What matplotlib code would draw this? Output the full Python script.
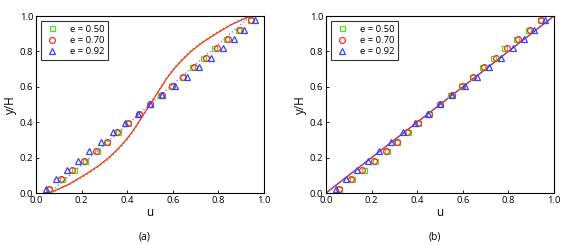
import matplotlib
matplotlib.use("Agg")
import matplotlib.pyplot as plt

plt.rcParams['font.family'] = ['Open Sans', 'DejaVu Sans']

# measured points (same in both panels)
y_pts = [0.025, 0.078, 0.131, 0.183, 0.236, 0.289, 0.342, 0.394, 0.447, 0.5,
         0.553, 0.606, 0.658, 0.711, 0.764, 0.817, 0.869, 0.922, 0.975]
u_e50 = [0.058, 0.112, 0.165, 0.215, 0.266, 0.313, 0.361, 0.405, 0.453, 0.5,
         0.546, 0.590, 0.639, 0.685, 0.732, 0.781, 0.832, 0.884, 0.937]
u_e70 = [0.058, 0.110, 0.159, 0.211, 0.262, 0.310, 0.357, 0.403, 0.451, 0.5,
         0.553, 0.597, 0.646, 0.693, 0.744, 0.794, 0.844, 0.893, 0.943]
u_e92 = [0.042, 0.088, 0.135, 0.183, 0.232, 0.284, 0.339, 0.392, 0.447, 0.5,
         0.554, 0.608, 0.664, 0.716, 0.769, 0.819, 0.868, 0.914, 0.960]

# model curves, panel (a)
y_line = [0.0, 0.05, 0.1, 0.15, 0.2, 0.25, 0.3, 0.35, 0.4, 0.45, 0.5,
          0.55, 0.6, 0.65, 0.7, 0.75, 0.8, 0.85, 0.9, 0.95, 1.0]
u_red_a = [0.06, 0.145, 0.21, 0.27, 0.32, 0.36, 0.395, 0.425, 0.45, 0.475, 0.5,
           0.525, 0.55, 0.575, 0.605, 0.64, 0.68, 0.73, 0.79, 0.855, 0.94]
u_grn_a = [0.065, 0.152, 0.218, 0.277, 0.326, 0.365, 0.399, 0.428, 0.452, 0.476, 0.5,
           0.524, 0.548, 0.572, 0.601, 0.635, 0.674, 0.723, 0.782, 0.848, 0.935]
y_blue = [0.0, 0.25, 0.5, 0.75, 1.0]
u_blue_a = [0.06, 0.28, 0.5, 0.72, 0.94]

# panel (b): straight line
y_b = [0.0, 1.0]
u_b = [0.0, 1.0]

green = '#55dd22'
red = '#ff2a2a'
blue = '#3344ff'

fig = plt.figure(figsize=(5.81, 2.45), dpi=100)
ax_a = fig.add_axes([36/581, 1-193/245, 228/581, 177/245])
ax_b = fig.add_axes([326/581, 1-193/245, 228/581, 177/245])


def style(ax):
    ax.set_xlim(0, 1)
    ax.set_ylim(0, 1)
    ax.set_xticks([0, 0.2, 0.4, 0.6, 0.8, 1.0])
    ax.set_yticks([0, 0.2, 0.4, 0.6, 0.8, 1.0])
    ax.set_xticklabels(['0.0', '0.2', '0.4', '0.6', '0.8', '1.0'])
    ax.set_yticklabels(['0.0', '0.2', '0.4', '0.6', '0.8', '1.0'])
    ax.tick_params(direction='in', length=2, width=0.6, labelsize=6.8, pad=2)
    for s in ax.spines.values():
        s.set_linewidth(0.8)
    ax.set_xlabel('u', fontsize=8.5, labelpad=1)
    ax.set_ylabel('y/H', fontsize=8.5, labelpad=2)


def markers(ax):
    ax.plot(u_e50, y_pts, 's', mfc='none', mec=green, ms=3.6, mew=0.9, label='e = 0.50')
    ax.plot(u_e70, y_pts, 'o', mfc='none', mec=red, ms=4.2, mew=0.9, label='e = 0.70')
    ax.plot(u_e92, y_pts, '^', mfc='none', mec=blue, ms=4.4, mew=0.9, label='e = 0.92')
    leg = ax.legend(loc='upper left', fontsize=6.8, frameon=True, fancybox=False,
                    edgecolor='black', handletextpad=1.2, borderpad=0.4,
                    labelspacing=0.25, handlelength=1.5)
    leg.get_frame().set_linewidth(0.8)


# (a)
ax_a.plot(u_blue_a, y_blue, ':', color='#7788ff', lw=1.0)
ax_a.plot(u_grn_a, y_line, ':', color=green, lw=1.1)
ax_a.plot(u_red_a, y_line, '-', color=red, lw=0.9)
markers(ax_a)
style(ax_a)

# (b)
ax_b.plot(u_b, y_b, ':', color=green, lw=0.8)
ax_b.plot(u_b, y_b, '-', color=blue, lw=0.9)
ax_b.plot(u_b, y_b, '-', color=red, lw=0.9, alpha=0.7)
markers(ax_b)
style(ax_b)

fig.text(145/581, 1-237/245, '(a)', ha='center', va='center', fontsize=7.5)
fig.text(435/581, 1-237/245, '(b)', ha='center', va='center', fontsize=7.5)

fig.savefig('out.png', dpi=100)
